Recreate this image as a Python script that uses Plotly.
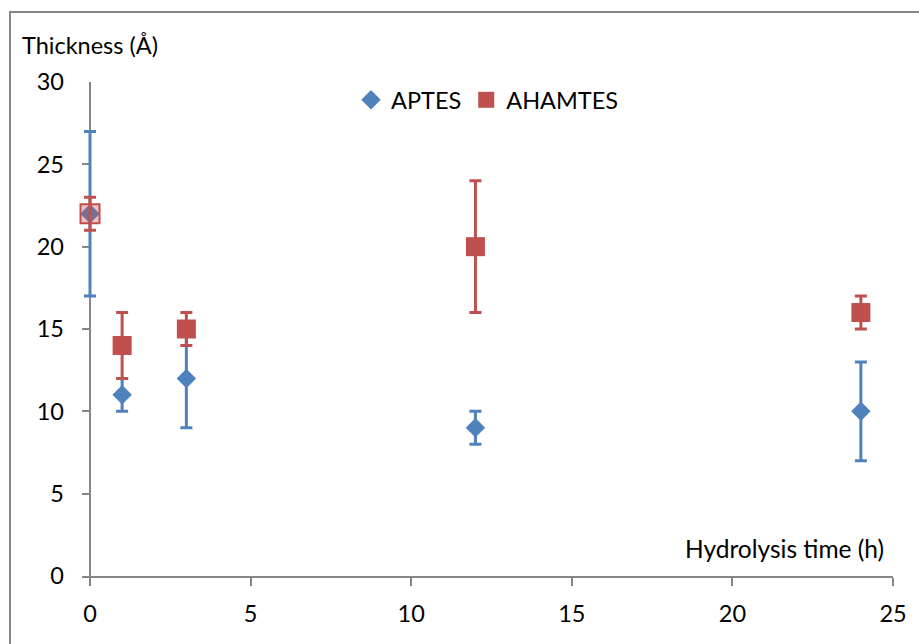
import plotly.graph_objects as go

# Hydrolysis time (h) and layer thickness (Å) with symmetric error ranges
hours = [0, 1, 3, 12, 24]

aptes_thickness = [22, 11, 12, 9, 10]
aptes_error = [5, 1, 3, 1, 3]

ahamtes_thickness = [22, 14, 15, 20, 16]
ahamtes_error = [1, 2, 1, 4, 1]

x_ticks = [0, 5, 10, 15, 20, 25]
y_ticks = [0, 5, 10, 15, 20, 25, 30]

BLUE = "#4F81BD"
RED = "#C0504D"
AXIS = "#868686"
FONT = "Lato"
FS = 23.5

# plot area spans 82..893 px horizontally, 82..576 px vertically
L, R, T, B = 82, 893, 82, 576
X_LO = -8 * 25 / (R - 8 - L)  # small left pad so the y ticks sit just left of x = 0


def px(x):
    return (x - L) / (R - L)


def py(y):
    return (B - y) / (B - T)


fig = go.Figure()

fig.add_trace(go.Scatter(
    x=hours, y=aptes_thickness, mode="markers", name="APTES",
    marker=dict(symbol="diamond", size=15, color=BLUE, line=dict(width=0)),
    error_y=dict(type="data", array=aptes_error, visible=True,
                 color=BLUE, thickness=3, width=6),
    cliponaxis=False,
))

# the t = 0 AHAMTES point is see-through so the APTES diamond shows beneath it
fig.add_trace(go.Scatter(
    x=hours[:1], y=ahamtes_thickness[:1], mode="markers", name="AHAMTES",
    showlegend=False,
    marker=dict(symbol="square", size=19, color="rgba(192,80,77,0.35)",
                line=dict(width=2, color=RED)),
    error_y=dict(type="data", array=ahamtes_error[:1], visible=True,
                 color=RED, thickness=3, width=6),
    cliponaxis=False,
))

fig.add_trace(go.Scatter(
    x=hours[1:], y=ahamtes_thickness[1:], mode="markers", name="AHAMTES",
    marker=dict(symbol="square", size=19, color=RED, line=dict(width=0)),
    error_y=dict(type="data", array=ahamtes_error[1:], visible=True,
                 color=RED, thickness=3, width=6),
    cliponaxis=False,
))

tick_font = dict(family=FONT, size=FS, color="#000000")

# x axis: bottom line plus a zero line that acts as the vertical axis at t = 0
fig.update_xaxes(
    range=[X_LO, 25], tickvals=x_ticks, showgrid=False,
    showline=True, linecolor=AXIS, linewidth=1.5,
    zeroline=True, zerolinecolor=AXIS, zerolinewidth=1.5,
    ticks="outside", ticklen=8, tickwidth=1.5, tickcolor=AXIS,
    tickfont=tick_font, ticklabelstandoff=8, fixedrange=True, layer="below traces",
)
fig.update_yaxes(
    range=[0, 30], tickvals=y_ticks, showgrid=False, showline=False, zeroline=False,
    ticks="inside", ticklen=8, tickwidth=1.5, tickcolor=AXIS,
    tickfont=tick_font, ticklabelstandoff=17, fixedrange=True, layer="below traces",
)

fig.update_layout(
    width=919, height=644,
    margin=dict(l=L, r=919 - R, t=T, b=644 - B),
    paper_bgcolor="white", plot_bgcolor="white",
    font=dict(family=FONT, size=FS, color="#000000"),
    showlegend=True,
    legend=dict(orientation="h", x=px(351), y=py(100),
                xanchor="left", yanchor="middle",
                bgcolor="rgba(0,0,0,0)", font=dict(family=FONT, size=FS),
                itemwidth=30, tracegroupgap=0),
    annotations=[
        dict(text="Thickness (Å)", xref="paper", yref="paper",
             x=px(20), y=py(45), xanchor="left", yanchor="middle",
             showarrow=False, font=dict(family=FONT, size=FS)),
        dict(text="Hydrolysis time (h)", xref="paper", yref="paper",
             x=px(886), y=py(548), xanchor="right", yanchor="middle",
             showarrow=False, font=dict(family=FONT, size=24.5)),
    ],
    shapes=[
        dict(type="rect", xref="paper", yref="paper",
             x0=px(10), x1=1.2, y0=-0.3, y1=py(12),
             line=dict(color=AXIS, width=2), fillcolor="rgba(0,0,0,0)", layer="below"),
    ],
)

fig.write_html("out.html")
